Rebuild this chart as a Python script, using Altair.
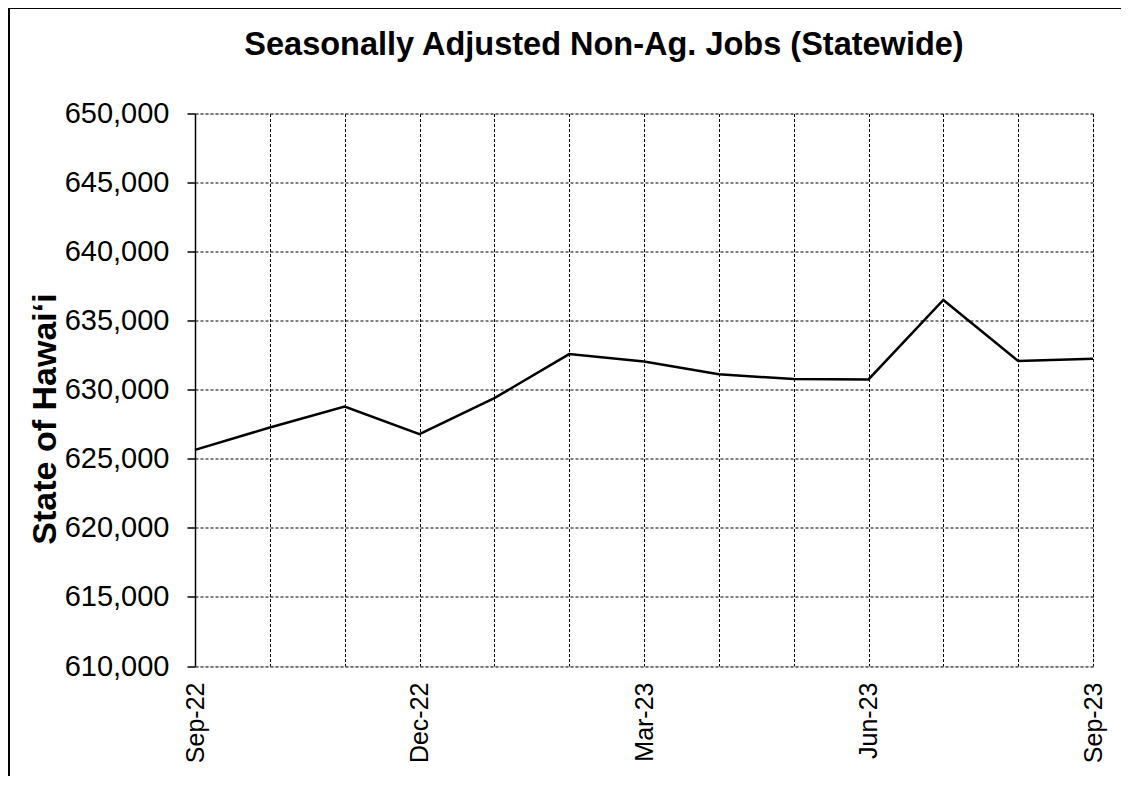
import altair as alt
import pandas as pd

months = ["Sep-22", "Oct-22", "Nov-22", "Dec-22", "Jan-23", "Feb-23", "Mar-23",
          "Apr-23", "May-23", "Jun-23", "Jul-23", "Aug-23", "Sep-23"]
jobs = [625650, 627270, 628780, 626790, 629390, 632580, 632050,
        631130, 630770, 630750, 636500, 632090, 632240]
shown_labels = ["Sep-22", "Dec-22", "Mar-23", "Jun-23", "Sep-23"]

df = pd.DataFrame({"month": months, "jobs": jobs})

FONT = "Liberation Sans"
label_list = "[" + ",".join("'%s'" % m for m in shown_labels) + "]"

line = alt.Chart(df).mark_line(color="black", strokeWidth=2.5).encode(
    x=alt.X("month:O", sort=months,
            scale=alt.Scale(type="point", padding=0),
            axis=alt.Axis(title=None, labelAngle=270, labelAlign="right",
                          labelBaseline="middle", labelFontSize=25, labelFont=FONT,
                          labelColor="black", labelPadding=16, ticks=False,
                          domain=False, grid=True, gridColor="black",
                          gridDash=[3, 2], gridWidth=1, labelOverlap=False,
                          labelExpr="indexof(" + label_list + ", datum.value) >= 0 ? datum.value : ''")),
    y=alt.Y("jobs:Q", scale=alt.Scale(domain=[610000, 650000], nice=False, zero=False),
            axis=alt.Axis(title="State of Hawai‘i", values=list(range(610000, 650001, 5000)),
                          format=",d", labelFontSize=29, labelFont=FONT, labelColor="black",
                          labelPadding=18, tickSize=8, tickColor="black", tickWidth=1.5,
                          domainColor="black", domainWidth=1.5,
                          grid=True, gridColor="black", gridDash=[3, 2], gridWidth=1,
                          titleFont=FONT, titleFontSize=34, titleFontWeight="bold",
                          titleColor="black", titleAngle=270, titleAlign="center",
                          titleBaseline="middle", titleX=-150, titleY=305)),
)

# outer frame (left and top edges of the figure border)
frame_top = alt.Chart(df).mark_rule(color="black", strokeWidth=1.5).encode(
    x=alt.value(-186), x2=alt.value(940), y=alt.value(-106))
frame_left = alt.Chart(df).mark_rule(color="black", strokeWidth=1.5).encode(
    x=alt.value(-186), y=alt.value(-106), y2=alt.value(680))

chart = alt.layer(line, frame_top, frame_left).properties(
    width=898, height=552.5,
    title=alt.TitleParams("Seasonally Adjusted Non-Ag. Jobs (Statewide)",
                          font=FONT, fontSize=32.5, fontWeight="bold", color="black",
                          anchor="middle", frame="group", baseline="alphabetic",
                          offset=-81, dx=-40),
    autosize=alt.AutoSizeParams(type="none"),
    padding={"left": 187, "top": 105.5, "right": 28, "bottom": 110},
).configure_view(stroke="#868686", strokeWidth=2.5).configure(background="white")

chart.save("out.html", embed_options={"renderer": "svg", "actions": False})
